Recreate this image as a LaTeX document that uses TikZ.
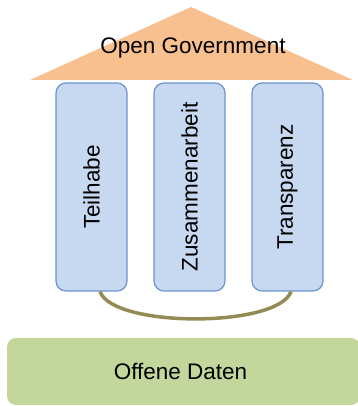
\documentclass[tikz,border=0pt]{standalone}
\usepackage{fontspec}
\setmainfont{Liberation Sans}
\definecolor{roofcol}{HTML}{F9C08F}
\definecolor{pillarfill}{HTML}{C6D9F1}
\definecolor{pillarline}{HTML}{6D93CF}
\definecolor{basecol}{HTML}{C3D69B}
\definecolor{linkcol}{HTML}{948A54}
\tikzset{
  txt/.style={font=\fontsize{22.5}{27}\selectfont, text=black},
  pillar/.style={txt, draw=pillarline, line width=1.2pt, fill=pillarfill,
    rounded corners=10pt, minimum width=71pt, minimum height=208pt, inner sep=0pt},
  basebox/.style={txt, fill=basecol, rounded corners=9pt,
    minimum width=353pt, minimum height=67pt, inner sep=0pt},
  link/.style={draw=linkcol, line width=3.5pt}
}
\begin{document}
\begin{tikzpicture}[x=1pt,y=1pt]
  \useasboundingbox (0,0) rectangle (357,406);
  % roof
  \fill[roofcol] (30,326) -- (191,399) -- (353,326) -- cycle;
  \node[txt] (roof) at (193,358) {Open Government};
  % pillars
  \node[pillar] (t) at (91.5,219)  {\rotatebox{90}{Teilhabe}};
  \node[pillar] (z) at (189.5,219) {\rotatebox{90}{Zusammenarbeit}};
  \node[pillar] (p) at (287.5,219) {\rotatebox{90}{Transparenz}};
  % base
  \node[basebox] (d) at (183.5,34.5) {\hspace*{-6pt}Offene Daten};
  % link between outer pillars
  \draw[link] ([xshift=8.5pt]t.south) .. controls (113,78) and (278,78) .. ([xshift=3.5pt]p.south);
\end{tikzpicture}
\end{document}
